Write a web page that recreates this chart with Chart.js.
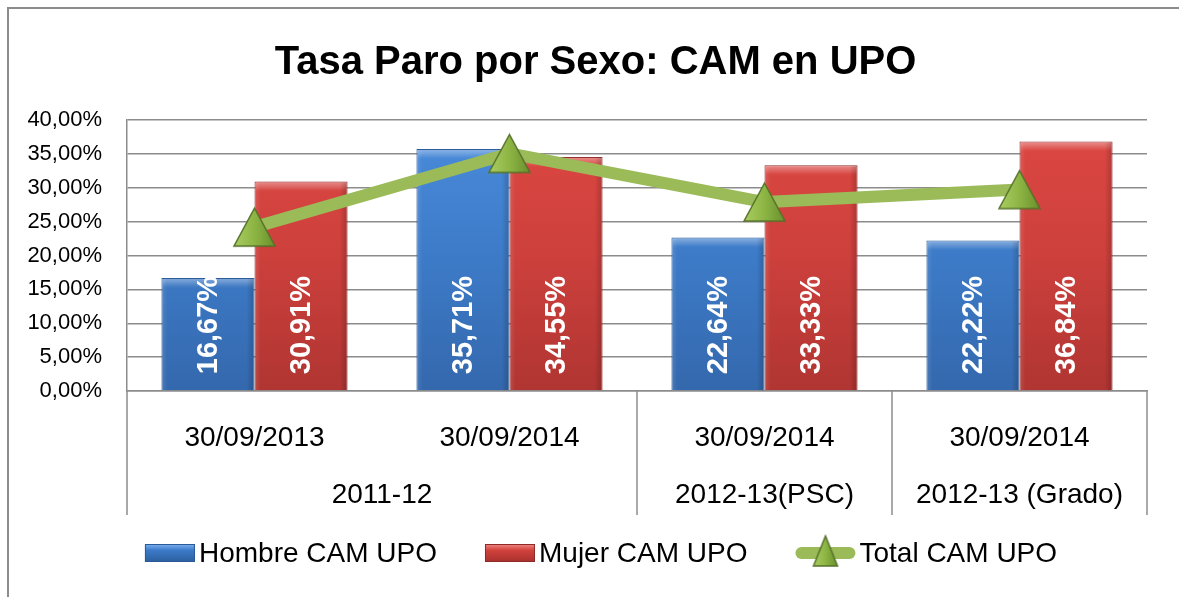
<!DOCTYPE html>
<html>
<head>
<meta charset="utf-8">
<script src="https://cdn.jsdelivr.net/npm/chart.js@4.4.1/dist/chart.umd.min.js"></script>
<style>
html,body{margin:0;padding:0;background:#fff;}
canvas{display:block;}
</style>
</head>
<body>
<canvas id="c" width="1179" height="597"></canvas>
<script>
// ---- data ----
const titleText = 'Tasa Paro por Sexo: CAM en UPO';
const categories = ['30/09/2013', '30/09/2014', '30/09/2014', '30/09/2014'];
const groups = ['2011-12', '2011-12', '2012-13(PSC)', '2012-13 (Grado)'];
const seriesNames = ['Hombre CAM UPO', 'Mujer CAM UPO', 'Total CAM UPO'];
const hombre = [16.67, 35.71, 22.64, 22.22];
const mujer = [30.91, 34.55, 33.33, 36.84];
const total = [24.19, 35.06, 27.88, 29.73];
const yTicks = [0, 5, 10, 15, 20, 25, 30, 35, 40];

const FONT = "'Liberation Sans', Arial, sans-serif";
Chart.defaults.font.family = FONT;
Chart.defaults.color = '#000';

function fmt(v) { return v.toFixed(2).replace('.', ',') + '%'; }

// triangle marker image
function makeTriangle(w, h) {
  const cv = document.createElement('canvas');
  cv.width = w + 4; cv.height = h + 4;
  const c = cv.getContext('2d');
  const g = c.createLinearGradient(2, 0, w + 2, 0);
  g.addColorStop(0, '#a9cc62');
  g.addColorStop(0.5, '#8db544');
  g.addColorStop(1, '#6a8f2c');
  c.beginPath();
  c.moveTo(2 + w / 2, 2);
  c.lineTo(2 + w, 2 + h);
  c.lineTo(2, 2 + h);
  c.closePath();
  c.fillStyle = g;
  c.fill();
  c.lineWidth = 1.5;
  c.strokeStyle = '#56722a';
  c.stroke();
  return cv;
}
const triMarker = makeTriangle(41, 38);
const triLegend = makeTriangle(24, 30);

function barGradient(ctx, area, top, mid, bot) {
  const g = ctx.createLinearGradient(0, area.top, 0, area.bottom);
  g.addColorStop(0, top);
  g.addColorStop(0.5, mid);
  g.addColorStop(1, bot);
  return g;
}

const frame = {
  id: 'frame',
  beforeDraw(chart) {
    const ctx = chart.ctx;
    ctx.save();
    ctx.fillStyle = '#fff';
    ctx.fillRect(0, 0, chart.width, chart.height);
    ctx.strokeStyle = '#8c8c8c';
    ctx.lineWidth = 2;
    ctx.beginPath();
    ctx.moveTo(8, chart.height);
    ctx.lineTo(8, 8);
    ctx.lineTo(chart.width, 8);
    ctx.stroke();
    ctx.restore();
  }
};

const bevel = {
  id: 'bevel',
  afterDatasetDraw(chart, args) {
    const meta = args.meta;
    if (meta.type !== 'bar') return;
    const ctx = chart.ctx;
    ctx.save();
    meta.data.forEach(el => {
      const p = el.getProps(['x', 'y', 'base', 'width'], true);
      const l = p.x - p.width / 2, r = p.x + p.width / 2, t = p.y, b = p.base;
      let g = ctx.createLinearGradient(0, t, 0, t + 9);
      g.addColorStop(0, 'rgba(255,255,255,0.4)');
      g.addColorStop(1, 'rgba(255,255,255,0.02)');
      ctx.fillStyle = g;
      ctx.fillRect(l + 1, t + 1, p.width - 2, 9);
      g = ctx.createLinearGradient(r - 8, 0, r, 0);
      g.addColorStop(0, 'rgba(0,0,0,0)');
      g.addColorStop(1, 'rgba(0,0,0,0.2)');
      ctx.fillStyle = g;
      ctx.fillRect(r - 8, t + 1, 7, b - t - 1);
      g = ctx.createLinearGradient(l, 0, l + 6, 0);
      g.addColorStop(0, 'rgba(255,255,255,0.12)');
      g.addColorStop(1, 'rgba(255,255,255,0)');
      ctx.fillStyle = g;
      ctx.fillRect(l + 1, t + 1, 6, b - t - 1);
    });
    ctx.restore();
  }
};

const barLabels = {
  id: 'barLabels',
  afterDatasetsDraw(chart) {
    const ctx = chart.ctx;
    ctx.save();
    ctx.font = 'bold 29px ' + FONT;
    ctx.fillStyle = '#fff';
    ctx.textAlign = 'left';
    ctx.textBaseline = 'middle';
    chart.data.datasets.forEach((ds, di) => {
      const meta = chart.getDatasetMeta(di);
      if (meta.type !== 'bar') return;
      meta.data.forEach((el, i) => {
        const p = el.getProps(['x', 'base'], true);
        ctx.save();
        ctx.translate(p.x + 1, p.base - 16);
        ctx.rotate(-Math.PI / 2);
        ctx.fillText(fmt(ds.data[i]), 0, 0);
        ctx.restore();
      });
    });
    ctx.restore();
  }
};

const groupAxis = {
  id: 'groupAxis',
  afterDraw(chart) {
    const ctx = chart.ctx;
    const xs = chart.scales.x;
    const area = chart.chartArea;
    const cw = xs.width / categories.length;
    const runs = [];
    groups.forEach((g, i) => {
      if (runs.length && runs[runs.length - 1].name === g) runs[runs.length - 1].end = i;
      else runs.push({ name: g, start: i, end: i });
    });
    const y0 = area.bottom, y1 = area.bottom + 124;
    ctx.save();
    ctx.strokeStyle = '#8c8c8c';
    ctx.lineWidth = 1.5;
    const edges = new Set();
    runs.forEach(r => {
      const left = xs.getPixelForValue(r.start) - cw / 2;
      const right = xs.getPixelForValue(r.end) + cw / 2;
      edges.add(Math.round(left)); edges.add(Math.round(right));
      r.cx = (left + right) / 2;
    });
    edges.forEach(x => {
      ctx.beginPath();
      ctx.moveTo(x, y0);
      ctx.lineTo(x, y1);
      ctx.stroke();
    });
    ctx.fillStyle = '#000';
    ctx.font = '28px ' + FONT;
    ctx.textAlign = 'center';
    ctx.textBaseline = 'middle';
    runs.forEach(r => ctx.fillText(r.name, r.cx, area.bottom + 104));
    ctx.restore();
  }
};

const legendDraw = {
  id: 'legendDraw',
  afterDraw(chart) {
    const ctx = chart.ctx;
    ctx.save();
    ctx.font = '28px ' + FONT;
    ctx.textBaseline = 'middle';
    ctx.textAlign = 'left';
    const sw = [50, 50, 60];
    const gapText = 4, gapItem = 48;
    const widths = seriesNames.map((n, i) => sw[i] + gapText + ctx.measureText(n).width);
    const totalW = widths.reduce((a, b) => a + b, 0) + gapItem * (seriesNames.length - 1);
    let x = 601 - totalW / 2;
    const cy = 553;
    const swatchColors = [['#7fb3f2', '#3c7ac8', '#2c5f9f', '#2b5a96'], ['#f08a86', '#d2423d', '#a8302d', '#8e2b28']];
    seriesNames.forEach((n, i) => {
      if (i < 2) {
        const c = swatchColors[i];
        const g = ctx.createLinearGradient(0, cy - 9, 0, cy + 9);
        g.addColorStop(0, c[0]); g.addColorStop(0.35, c[1]); g.addColorStop(1, c[2]);
        ctx.fillStyle = g;
        ctx.fillRect(x, cy - 9, sw[i], 18);
        ctx.strokeStyle = c[3];
        ctx.lineWidth = 1;
        ctx.strokeRect(x + 0.5, cy - 8.5, sw[i] - 1, 17);
      } else {
        ctx.strokeStyle = '#9bbb59';
        ctx.lineWidth = 12;
        ctx.lineCap = 'round';
        ctx.beginPath();
        ctx.moveTo(x + 6, cy);
        ctx.lineTo(x + sw[i] - 6, cy);
        ctx.stroke();
        ctx.drawImage(triLegend, x + sw[i] / 2 - triLegend.width / 2, cy - triLegend.height / 2 - 2);
      }
      ctx.fillStyle = '#000';
      ctx.fillText(n, x + sw[i] + gapText, cy + 1);
      x += widths[i] + gapItem;
    });
    ctx.restore();
  }
};

const ctx = document.getElementById('c').getContext('2d');
new Chart(ctx, {
  data: {
    labels: categories,
    datasets: [
      {
        type: 'line', label: seriesNames[2], data: total, order: 0,
        borderColor: '#9bbb59', borderWidth: 12, tension: 0, fill: false,
        pointStyle: triMarker, pointRadius: 20, pointHoverRadius: 20
      },
      {
        type: 'bar', label: seriesNames[0], data: hombre, order: 1,
        backgroundColor: c => barGradient(c.chart.ctx, c.chart.chartArea || {top: 0, bottom: 597}, '#4a8cdc', '#3d7bc8', '#3468ad'),
        borderColor: '#2d5c98', borderWidth: 1,
        categoryPercentage: 0.73, barPercentage: 1.0
      },
      {
        type: 'bar', label: seriesNames[1], data: mujer, order: 1,
        backgroundColor: c => barGradient(c.chart.ctx, c.chart.chartArea || {top: 0, bottom: 597}, '#de4843', '#cd403c', '#b03532'),
        borderColor: '#8e2b28', borderWidth: 1,
        categoryPercentage: 0.73, barPercentage: 1.0
      }
    ]
  },
  options: {
    responsive: false,
    animation: false,
    layout: { padding: { left: 14, right: 2, top: 0, bottom: 82 } },
    plugins: {
      legend: { display: false },
      tooltip: { enabled: false },
      title: {
        display: true, text: titleText,
        font: { size: 40, weight: 'bold', family: FONT },
        color: '#000',
        padding: { top: 39, bottom: 33 }
      }
    },
    scales: {
      x: {
        grid: { display: false },
        border: { display: true, color: '#8c8c8c', width: 1.5 },
        ticks: { font: { size: 28 }, color: '#000', padding: 22, maxRotation: 0, autoSkip: false },
        afterFit(s) { s.height = 124; s.paddingLeft = 0; s.paddingRight = 0; }
      },
      y: {
        min: 0, max: 40,
        afterBuildTicks(s) { s.ticks = yTicks.map(v => ({ value: v })); },
        grid: { color: '#8c8c8c', lineWidth: 1.5, drawTicks: false },
        border: { display: true, color: '#8c8c8c', width: 1.5 },
        ticks: { font: { size: 22 }, color: '#000', padding: 25, callback: v => fmt(v) },
        afterFit(s) { s.width = 113; }
      },
      yRight: {
        type: 'linear', position: 'right', min: 0, max: 40,
        grid: { display: false },
        border: { display: false },
        ticks: { display: false },
        afterFit(s) { s.width = 20; }
      }
    }
  },
  plugins: [frame, bevel, barLabels, groupAxis, legendDraw]
});
</script>
</body>
</html>
